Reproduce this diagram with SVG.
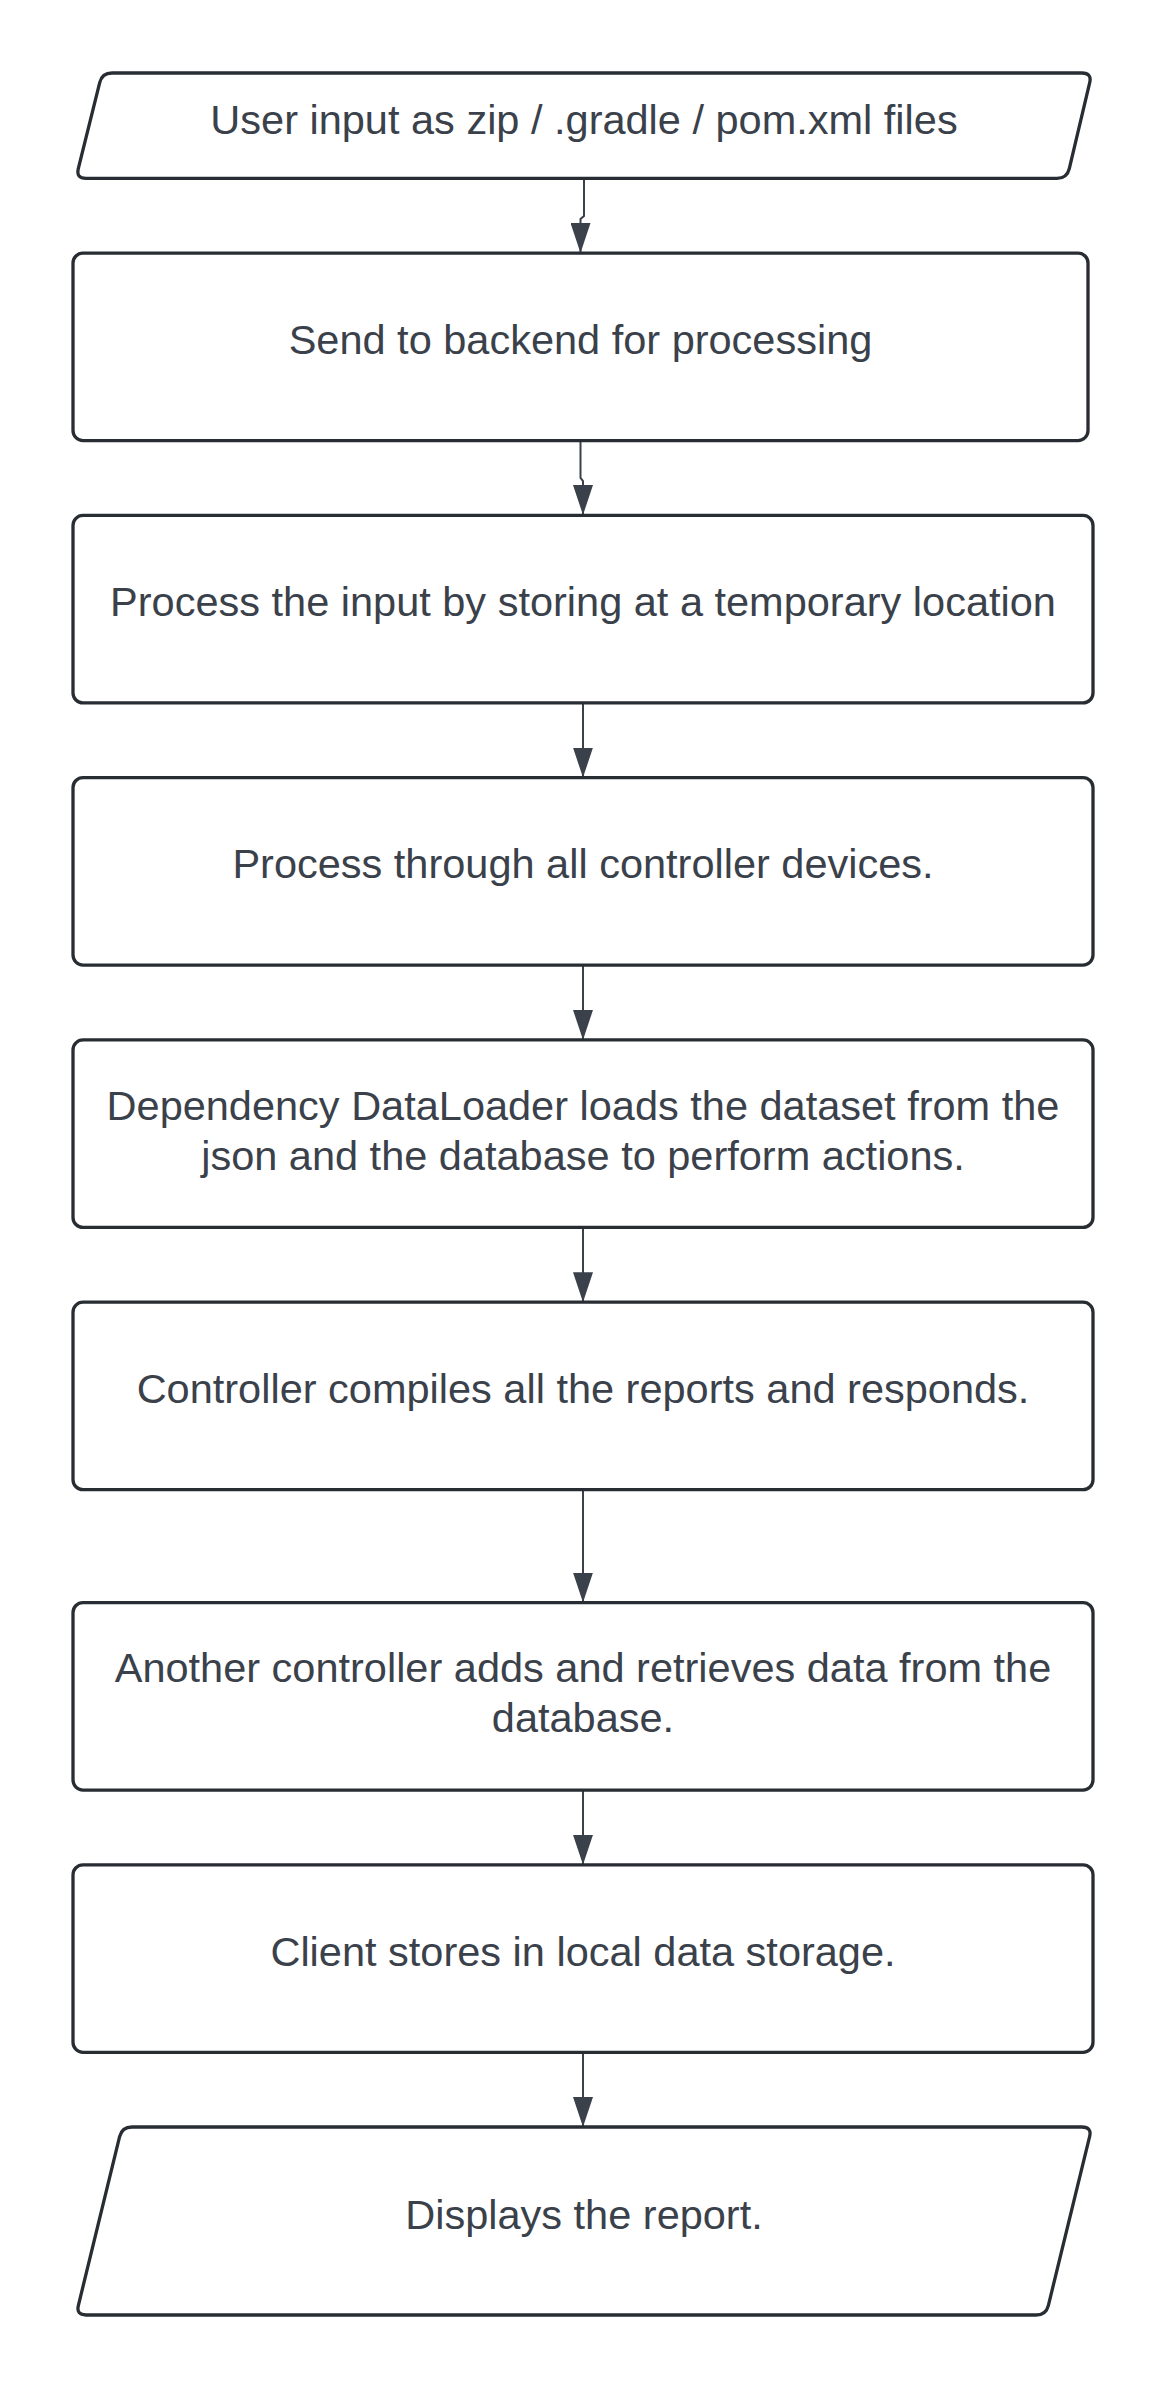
<svg xmlns="http://www.w3.org/2000/svg" width="1168" height="2391" viewBox="0 0 1168 2391">
<defs>
<style>
.box{fill:#ffffff;stroke:#282c33;stroke-width:3.3;}
.lbl{font-family:"Liberation Sans",Arial,sans-serif;font-size:41.5px;fill:#3a414a;text-anchor:middle;}
.con{fill:none;stroke:#3a414a;stroke-width:2;}
</style>
<marker id="arr" viewBox="0 0 30 20" refX="30" refY="10" markerWidth="30" markerHeight="20" markerUnits="userSpaceOnUse" orient="auto">
<path d="M0,0 L30,10 L0,20 Z" fill="#3a414a"/>
</marker>
</defs>
<rect width="1168" height="2391" fill="#ffffff"/>
<g id="connectors">
<path class="con" marker-end="url(#arr)" d="M584,179 L584,216 L580.5,219 L580.5,253"/>
<path class="con" marker-end="url(#arr)" d="M580.5,441 L580.5,478 L583,481 L583,515"/>
<path class="con" marker-end="url(#arr)" d="M583,703 L583,777.6"/>
<path class="con" marker-end="url(#arr)" d="M583,965 L583,1039.9"/>
<path class="con" marker-end="url(#arr)" d="M583,1228 L583,1302.2"/>
<path class="con" marker-end="url(#arr)" d="M583,1490 L583,1602.6"/>
<path class="con" marker-end="url(#arr)" d="M583,1790 L583,1864.8"/>
<path class="con" marker-end="url(#arr)" d="M583,2052 L583,2127"/>
</g>
<g id="node1">
<path class="box" d="M112,73 L1082,73 Q1092,73 1089.7,82.7 L1069.3,168.7 Q1067,178.4 1057,178.4 L86,178.4 Q76,178.4 78.3,168.7 L99.7,82.7 Q102,73 112,73 Z"/>
<text class="lbl" x="584" y="134">User input as zip / .gradle / pom.xml files</text>
</g>
<g id="node2">
<rect class="box" x="73" y="253.1" width="1015" height="187.5" rx="10"/>
<text class="lbl" x="580.5" y="354">Send to backend for processing</text>
</g>
<g id="node3">
<rect class="box" x="73" y="515.4" width="1020" height="187.5" rx="10"/>
<text class="lbl" x="583" y="616">Process the input by storing at a temporary location</text>
</g>
<g id="node4">
<rect class="box" x="73" y="777.6" width="1020" height="187.5" rx="10"/>
<text class="lbl" x="583" y="878">Process through all controller devices.</text>
</g>
<g id="node5">
<rect class="box" x="73" y="1039.9" width="1020" height="187.5" rx="10"/>
<text class="lbl" x="583" y="1119.7">Dependency DataLoader loads the dataset from the</text>
<text class="lbl" x="583" y="1169.7">json and the database to perform actions.</text>
</g>
<g id="node6">
<rect class="box" x="73" y="1302.2" width="1020" height="187.5" rx="10"/>
<text class="lbl" x="583" y="1403">Controller compiles all the reports and responds.</text>
</g>
<g id="node7">
<rect class="box" x="73" y="1602.6" width="1020" height="187.5" rx="10"/>
<text class="lbl" x="583" y="1682.4">Another controller adds and retrieves data from the</text>
<text class="lbl" x="583" y="1732.4">database.</text>
</g>
<g id="node8">
<rect class="box" x="73" y="1864.8" width="1020" height="187.5" rx="10"/>
<text class="lbl" x="583" y="1966">Client stores in local data storage.</text>
</g>
<g id="node9">
<path class="box" d="M132,2127 L1082,2127 Q1092,2127 1089.6,2136.7 L1048.4,2305.3 Q1046,2315 1036,2315 L86,2315 Q76,2315 78.4,2305.3 L119.6,2136.7 Q122,2127 132,2127 Z"/>
<text class="lbl" x="584" y="2229">Displays the report.</text>
</g>
</svg>
